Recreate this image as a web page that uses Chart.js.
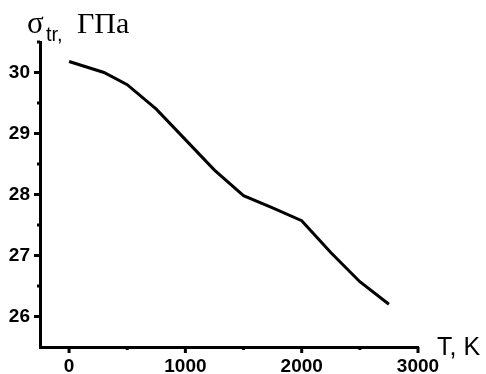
<!DOCTYPE html>
<html>
<head>
<meta charset="utf-8">
<script src="https://cdn.jsdelivr.net/npm/chart.js@4.4.1/dist/chart.umd.min.js"></script>
<style>
  html, body { margin: 0; padding: 0; background: #fff; }
  #wrap { width: 486px; height: 374px; }
</style>
</head>
<body>
<div id="wrap"><canvas id="myChart" width="486" height="374"></canvas></div>
<script>
// temperature, K
const temps = [0, 300, 500, 750, 1000, 1250, 1500, 1750, 2000, 2250, 2500, 2750];
// sigma_tr, GPa
const sigma = [30.18, 30.0, 29.8, 29.4, 28.9, 28.4, 27.98, 27.78, 27.57, 27.05, 26.57, 26.2];

const xTicks = [0, 1000, 2000, 3000];
const yTicks = [26, 27, 28, 29, 30];

// tick marks (major + minor) drawn on the axes, pointing outward
const axisTicks = {
  id: "axisTicks",
  afterDraw(chart) {
    const c = chart.ctx;
    const xs = chart.scales.x;
    const ys = chart.scales.y;
    const area = chart.chartArea;
    c.save();
    c.strokeStyle = "#000";
    c.lineWidth = 3;
    c.beginPath();
    for (let v = 0; v <= 3000; v += 500) {
      const px = xs.getPixelForValue(v);
      const len = v % 1000 === 0 ? 6 : 3;
      c.moveTo(px, area.bottom);
      c.lineTo(px, area.bottom + len);
    }
    for (let v = 26; v <= 30.5; v += 0.5) {
      const py = ys.getPixelForValue(v);
      const len = v % 1 === 0 ? 6 : 3;
      c.moveTo(area.left, py);
      c.lineTo(area.left - len, py);
    }
    c.stroke();
    c.restore();
  },
};

// axis titles: sigma with subscript, and T, K
const axisTitles = {
  id: "axisTitles",
  afterDraw(chart) {
    const c = chart.ctx;
    c.save();
    c.fillStyle = "#000";
    c.textBaseline = "alphabetic";
    c.textAlign = "left";
    c.font = "31px 'Liberation Serif', 'Times New Roman', serif";
    c.fillText("σ", 27, 33);
    c.font = "20px 'Liberation Sans', Arial, sans-serif";
    c.fillText("tr,", 46, 41);
    c.font = "30px 'Liberation Serif', 'Times New Roman', serif";
    c.fillText("ГПа", 77, 33);
    c.font = "25px 'Liberation Sans', Arial, sans-serif";
    c.fillText("T, K", 437, 355);
    c.restore();
  },
};

const tickFont = { family: "'Liberation Sans', Arial, sans-serif", size: 19, weight: "bold" };

let ctx = document.getElementById("myChart").getContext("2d");
let myChart = new Chart(ctx, {
  type: "line",
  data: {
    datasets: [
      {
        data: temps.map((t, i) => ({ x: t, y: sigma[i] })),
        borderColor: "#000000",
        borderWidth: 3,
        fill: false,
        pointRadius: 0,
        tension: 0,
      },
    ],
  },
  options: {
    responsive: false,
    animation: false,
    layout: { padding: { top: 42, right: 68, left: 0, bottom: 0 } },
    plugins: {
      legend: { display: false },
      tooltip: { enabled: false },
    },
    scales: {
      x: {
        type: "linear",
        min: -250,
        max: 3000,
        grid: { display: false },
        border: { display: true, color: "#000", width: 3 },
        afterBuildTicks: (scale) => {
          scale.ticks = xTicks.map((v) => ({ value: v }));
        },
        afterFit: (scale) => { scale.height = 27; },
        ticks: {
          color: "#000",
          font: tickFont,
          padding: 0,
          maxRotation: 0,
          autoSkip: false,
          callback: (v) => String(v),
        },
      },
      y: {
        type: "linear",
        min: 25.5,
        max: 30.5,
        grid: { display: false },
        border: { display: true, color: "#000", width: 3 },
        afterBuildTicks: (scale) => {
          scale.ticks = yTicks.map((v) => ({ value: v }));
        },
        afterFit: (scale) => { scale.width = 40; },
        ticks: {
          color: "#000",
          font: tickFont,
          padding: 2,
          autoSkip: false,
          callback: (v) => String(v),
        },
      },
    },
  },
  plugins: [axisTicks, axisTitles],
});
</script>
</body>
</html>
